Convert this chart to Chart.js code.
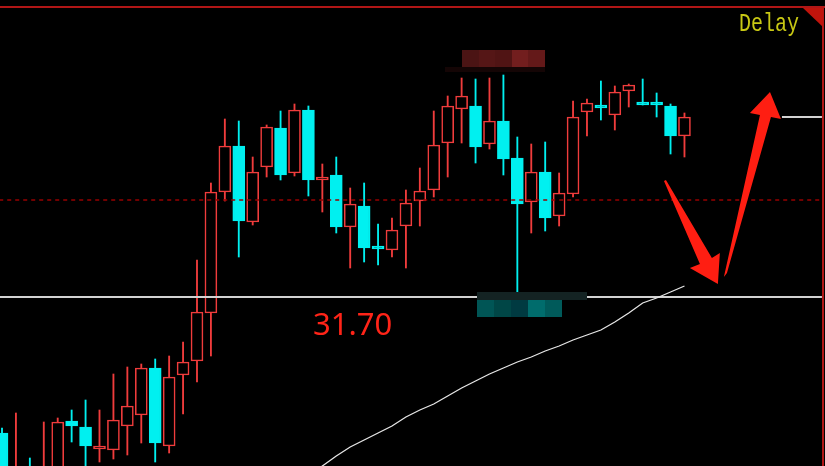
<!DOCTYPE html>
<html>
<head>
<meta charset="utf-8">
<script src="https://cdn.jsdelivr.net/npm/chart.js@4.4.1/dist/chart.umd.min.js"></script>
<style>
  html, body { margin: 0; padding: 0; background: #000; overflow: hidden; }
  #kline { display: block; background: #000; }
</style>
</head>
<body>
<canvas id="kline" width="825" height="466"></canvas>
<script>
// candles, oldest first (the first few bodies sit below the visible window)
const openPrices = [30.34, 29.82, 29.97, 29.77, 29.92, 30.46, 30.40, 30.18, 30.17, 30.41,
  30.52, 30.99, 30.21, 30.92, 31.06, 31.54, 32.75, 33.21, 32.45, 33.00,
  33.39, 32.94, 33.57, 32.87, 32.92, 32.40, 32.61, 32.19, 32.17, 32.41,
  32.66, 32.77, 33.24, 33.58, 33.61, 33.23, 33.46, 33.09, 32.65, 32.95,
  32.51, 32.73, 33.55, 33.60, 33.52, 33.76, 33.63, 33.63, 33.61, 33.31];
const highPrices = [30.39, 30.54, 30.09, 30.45, 30.49, 30.57, 30.67, 30.57, 30.93, 31.00,
  31.03, 31.08, 31.11, 31.25, 32.07, 32.84, 33.48, 33.46, 33.10, 33.42,
  33.56, 33.63, 33.61, 33.03, 33.10, 32.79, 32.84, 32.43, 32.49, 32.77,
  32.99, 33.56, 33.71, 33.89, 33.88, 33.89, 33.92, 33.30, 33.23, 33.25,
  32.94, 33.66, 33.68, 33.86, 33.81, 33.83, 33.88, 33.74, 33.63, 33.54];
const lowPrices = [29.91, 29.77, 29.72, 29.72, 29.87, 30.25, 29.97, 30.05, 30.08, 30.12,
  30.24, 30.05, 30.14, 30.53, 30.85, 31.11, 32.66, 32.10, 32.42, 32.90,
  32.87, 32.91, 32.71, 32.55, 32.34, 31.99, 32.05, 32.02, 32.10, 31.99,
  32.41, 32.70, 32.90, 33.24, 33.04, 33.18, 32.92, 31.75, 32.34, 32.36,
  32.41, 32.70, 33.31, 33.47, 33.37, 33.60, 33.62, 33.50, 33.13, 33.10];
const closePrices = [29.97, 29.97, 29.77, 29.99, 30.45, 30.41, 30.21, 30.19, 30.47, 30.61,
  30.99, 30.24, 30.90, 31.05, 31.55, 32.75, 33.21, 32.46, 32.95, 33.40,
  32.92, 33.57, 32.87, 32.88, 32.40, 32.63, 32.19, 32.18, 32.37, 32.64,
  32.76, 33.22, 33.61, 33.71, 33.20, 33.46, 33.08, 32.63, 32.95, 32.49,
  32.74, 33.50, 33.64, 33.59, 33.75, 33.82, 33.62, 33.62, 33.31, 33.50];

// moving average, only the part that is on screen (from candle 22 on)
const maStart = 22;
const maValues = [29.91, 30.01, 30.11, 30.20, 30.27, 30.34, 30.41, 30.50, 30.57, 30.63,
  30.71, 30.79, 30.86, 30.93, 30.99, 31.05, 31.10, 31.16, 31.21, 31.27,
  31.32, 31.37, 31.45, 31.54, 31.64, 31.69, 31.75, 31.81];

const supportPrice = 31.70;   // white line + red label
const midPrice = 32.67;       // dashed red line
const stubPrice = 33.50;      // short white stub at the right
const stubFrom = 56.0;
const lineEnd = 58.87;

// blurred price tags sit on these candles
const tagHigh = 36;
const tagLow = 37;

// hand drawn arrows as [candle index, price]
const arrowDown = [[47.67, 32.87], [50.97, 32.09], [51.54, 32.14], [51.40, 31.83], [49.39, 31.99], [50.11, 32.03], [47.53, 32.86]];
const arrowUp = [[51.83, 31.90], [54.42, 33.52], [53.70, 33.54], [55.14, 33.75], [55.93, 33.48], [55.21, 33.50], [52.05, 31.94]];

const upColor = '#f03c3c';
const downColor = '#00f0f0';
const isUp = closePrices.map((c, i) => c >= openPrices[i]);

const overlay = {
  id: 'overlay',
  afterDatasetsDraw(chart) {
    const {ctx, scales: {x, y}} = chart;
    ctx.save();

    // frame
    ctx.fillStyle = '#b01616';
    ctx.fillRect(0, 6, 825, 2);
    ctx.fillRect(822, 6, 2, 460);
    ctx.fillStyle = '#c0140c';
    ctx.beginPath();
    ctx.moveTo(803, 8); ctx.lineTo(823, 8); ctx.lineTo(823, 27);
    ctx.closePath();
    ctx.fill();

    // blurred tags
    const hx = x.getPixelForValue(tagHigh), hy = y.getPixelForValue(highPrices[tagHigh]);
    const redCells = ['#4b1414', '#551616', '#501414', '#721e1e', '#641919'];
    redCells.forEach((c, k) => {
      ctx.fillStyle = c;
      ctx.fillRect(Math.round(hx - 41.5 + k * 16.6), Math.round(hy - 25), 17, 17);
    });
    ctx.fillStyle = '#140505';
    ctx.fillRect(Math.round(hx - 58), Math.round(hy - 8), 100, 5);

    const lx = x.getPixelForValue(tagLow), ly = y.getPixelForValue(lowPrices[tagLow]);
    ctx.fillStyle = '#142323';
    ctx.fillRect(Math.round(lx - 40), Math.round(ly), 110, 8);
    const tealCells = ['#005555', '#004646', '#003a41', '#006c6c', '#005a5a'];
    tealCells.forEach((c, k) => {
      ctx.fillStyle = c;
      ctx.fillRect(Math.round(lx - 40 + k * 16.8), Math.round(ly + 8), 17, 17);
    });

    // arrows
    ctx.fillStyle = '#ff1e12';
    [arrowDown, arrowUp].forEach(shape => {
      ctx.beginPath();
      shape.forEach(([i, p], k) => {
        const px = x.getPixelForValue(i), py = y.getPixelForValue(p);
        if (k === 0) ctx.moveTo(px, py); else ctx.lineTo(px, py);
      });
      ctx.closePath();
      ctx.fill();
    });

    // price label
    ctx.fillStyle = '#ff2418';
    ctx.font = '31px "Noto Sans"';
    ctx.textBaseline = 'alphabetic';
    ctx.fillText(supportPrice.toFixed(2), 313, y.getPixelForValue(supportPrice) + 38);

    // Delay tag
    ctx.translate(739, 31);
    ctx.scale(1, 1.25);
    ctx.font = '20px "Liberation Mono"';
    ctx.fillStyle = '#c8c814';
    ctx.fillText('Delay', 0, 0);
    ctx.restore();
  }
};

const flatLine = (price, from, to, color, width, dash) => ({
  type: 'line',
  data: [{x: from, y: price}, {x: to, y: price}],
  borderColor: color,
  borderWidth: width,
  borderDash: dash || [],
  pointRadius: 0,
  order: 1
});

new Chart(document.getElementById('kline'), {
  type: 'bar',
  data: {
    datasets: [
      {
        data: highPrices.map((h, i) => ({x: i, y: [lowPrices[i], h]})),
        backgroundColor: isUp.map(u => u ? upColor : downColor),
        barThickness: 1.2,
        grouped: false,
        order: 4
      },
      {
        data: openPrices.map((o, i) => ({x: i, y: [o, closePrices[i]]})),
        backgroundColor: isUp.map(u => u ? '#000' : downColor),
        borderColor: isUp.map(u => u ? upColor : downColor),
        borderWidth: 1.6,
        borderSkipped: false,
        barThickness: 12,
        minBarLength: 3,
        grouped: false,
        order: 3
      },
      flatLine(midPrice, -0.2, lineEnd, '#960000', 1.5, [4, 4]),
      flatLine(supportPrice, -0.2, lineEnd, '#d2d2d2', 2),
      flatLine(stubPrice, stubFrom, lineEnd, '#d2d2d2', 2),
      {
        type: 'line',
        data: maValues.map((v, k) => ({x: maStart + k, y: v})),
        borderColor: '#e6e6e6',
        borderWidth: 1.3,
        pointRadius: 0,
        tension: 0,
        order: 0
      }
    ]
  },
  options: {
    responsive: false,
    animation: false,
    devicePixelRatio: 1,
    layout: { padding: 0 },
    plugins: { legend: { display: false }, tooltip: { enabled: false } },
    scales: {
      x: { type: 'linear', min: -0.1436, max: 59.09, offset: false, display: false },
      y: { type: 'linear', min: 30.01, max: 34.67, beginAtZero: false, display: false }
    }
  },
  plugins: [overlay]
});
</script>
</body>
</html>
